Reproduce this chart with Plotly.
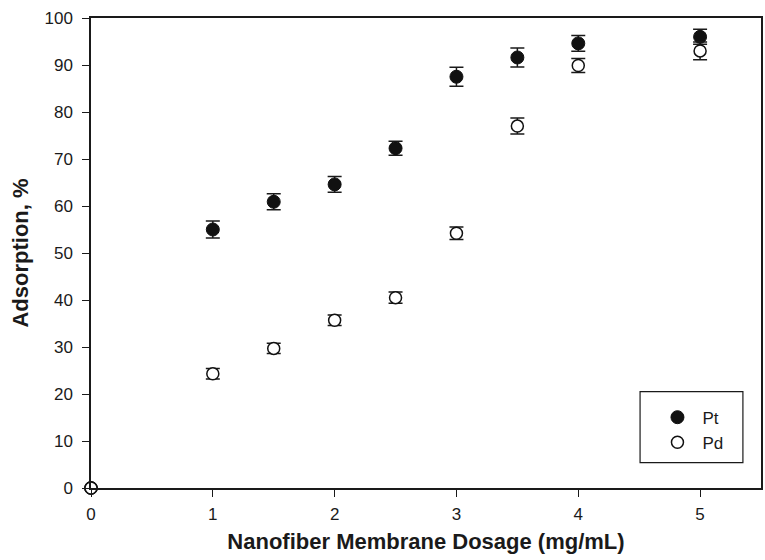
import plotly.graph_objects as go

# Adsorption (%) vs. nanofiber membrane dosage (mg/mL)
dosage = [0, 1, 1.5, 2, 2.5, 3, 3.5, 4, 5]
pt_ads = [0, 55.0, 60.9, 64.6, 72.3, 87.5, 91.6, 94.6, 96.0]
pt_err = [0, 1.8, 1.7, 1.7, 1.5, 2.0, 2.0, 1.7, 1.6]
pd_ads = [0, 24.3, 29.7, 35.7, 40.5, 54.2, 77.0, 89.9, 93.0]
pd_err = [0, 1.1, 1.1, 1.1, 1.2, 1.35, 1.7, 1.5, 1.9]

x_ticks = [0, 1, 2, 3, 4, 5]
y_ticks = [0, 10, 20, 30, 40, 50, 60, 70, 80, 90, 100]

FONT = "Arial, Liberation Sans, sans-serif"
INK = "#1a1a1a"

fig = go.Figure()

fig.add_trace(go.Scatter(
    x=dosage, y=pt_ads, name="Pt", mode="markers",
    legendgroup="pt",
    marker=dict(symbol="circle", size=13, color="#111111",
                line=dict(color="#111111", width=1)),
    error_y=dict(type="data", array=pt_err, visible=True,
                 color=INK, thickness=1.5, width=7),
    cliponaxis=False,
))
fig.add_trace(go.Scatter(
    x=dosage, y=pd_ads, name="Pd", mode="markers",
    legendgroup="pd",
    marker=dict(symbol="circle", size=12, color="white",
                line=dict(color="#111111", width=1.5)),
    error_y=dict(type="data", array=pd_err, visible=True,
                 color=INK, thickness=1.5, width=7),
    cliponaxis=False,
))

axis_common = dict(
    showline=True, linecolor=INK, linewidth=1.5, mirror=True,
    ticks="outside", ticklen=7, tickwidth=1.2, tickcolor=INK,
    showgrid=False, zeroline=False,
    tickfont=dict(family=FONT, size=17, color=INK),
)

fig.update_xaxes(
    range=[0, 5.5], tickvals=x_ticks,
    title=dict(text="<b>Nanofiber Membrane Dosage (mg/mL)</b>",
               font=dict(family=FONT, size=22, color=INK), standoff=10),
    ticklabelstandoff=3,
    **axis_common,
)
fig.update_yaxes(
    range=[0, 100], tickvals=y_ticks,
    title=dict(text="<b>Adsorption, %</b>",
               font=dict(family=FONT, size=22, color=INK), standoff=10),
    ticklabelstandoff=6,
    **axis_common,
)

# legend frame
fig.add_shape(type="rect", xref="paper", yref="paper",
              x0=0.8195, x1=0.973, y0=0.0538, y1=0.2049,
              line=dict(color=INK, width=1.2), fillcolor="white", layer="below")

fig.update_layout(
    width=765, height=560,
    margin=dict(l=91, r=2, t=18, b=72),
    paper_bgcolor="white", plot_bgcolor="white",
    showlegend=True,
    legend=dict(x=0.838, y=0.188, xanchor="left", yanchor="top",
                bgcolor="rgba(0,0,0,0)", borderwidth=0,
                tracegroupgap=0, itemwidth=40,
                font=dict(family=FONT, size=17, color=INK)),
)

fig.write_html("out.html")
